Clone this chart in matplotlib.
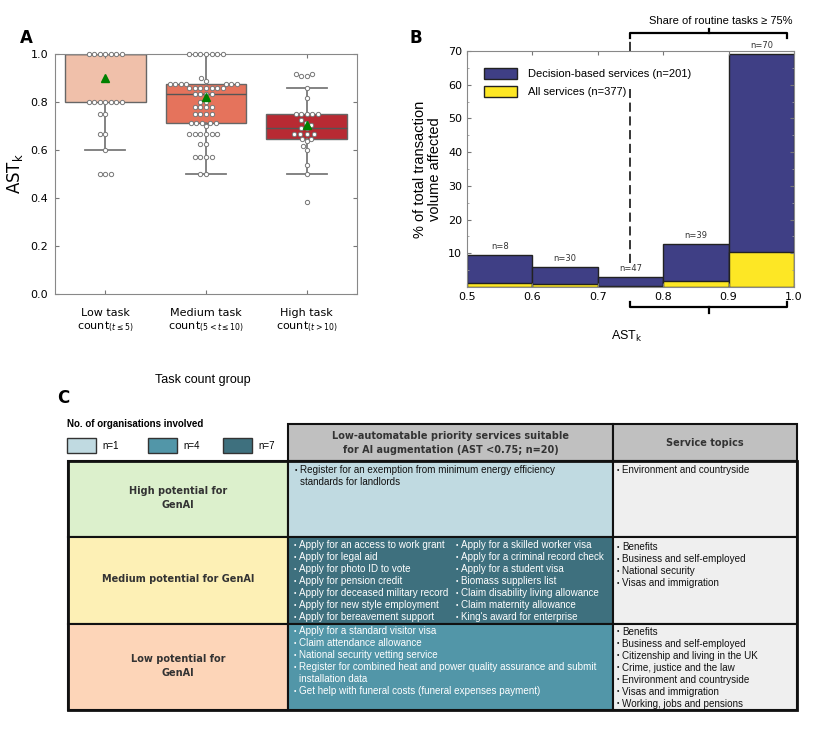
import matplotlib
matplotlib.use('Agg')
import matplotlib.pyplot as plt
import matplotlib.transforms as mtransforms
from matplotlib.patches import Rectangle, Patch
import seaborn as sns
import pandas as pd

# ---- Painel A: AST_k por grupo de contagem de tarefas
groups = ['Low', 'Medium', 'High']
group_labels = ['Low task\ncount$_{(t\\leq5)}$',
                'Medium task\ncount$_{(5<t\\leq10)}$',
                'High task\ncount$_{(t>10)}$']
low_vals = [1.0, 1.0, 1.0, 1.0, 1.0, 1.0, 1.0,
            0.8, 0.8, 0.8, 0.8, 0.8, 0.8, 0.8,
            0.75, 0.75, 0.667, 0.667, 0.6, 0.5, 0.5, 0.5]
medium_vals = [1.0, 1.0, 1.0, 1.0, 1.0, 1.0, 1.0,
               0.9, 0.889,
               0.875, 0.875, 0.875, 0.875, 0.875, 0.875, 0.875,
               0.857, 0.857, 0.857, 0.857, 0.857, 0.857, 0.857,
               0.833, 0.833, 0.833, 0.833, 0.8, 0.8,
               0.778, 0.778, 0.778, 0.778, 0.75, 0.75, 0.75, 0.75,
               0.714, 0.714, 0.714, 0.714, 0.714, 0.7,
               0.667, 0.667, 0.667, 0.667, 0.667, 0.667,
               0.625, 0.625, 0.571, 0.571, 0.571, 0.571, 0.5, 0.5]
high_vals = [0.917, 0.917, 0.909, 0.909, 0.857, 0.818,
             0.75, 0.75, 0.75, 0.75, 0.75, 0.727, 0.714, 0.706,
             0.692, 0.692, 0.667, 0.667, 0.667, 0.667, 0.647, 0.647,
             0.636, 0.615, 0.6, 0.538, 0.5, 0.385]
box_q1 = [0.8, 0.714, 0.647]
box_med = [1.0, 0.833, 0.692]
box_q3 = [1.0, 0.875, 0.75]
whisk_lo = [0.6, 0.5, 0.5]
whisk_hi = [1.0, 1.0, 0.857]
box_mean = [0.9, 0.82, 0.705]
box_fliers = [[], [], [0.385]]
box_colors = ['#f0c0aa', '#e5735c', '#b82a33']

# ---- Painel B: histograma de volume de transacoes
bin_left = [0.5, 0.6, 0.7, 0.8, 0.9]
decision_share = [9.6, 5.9, 2.9, 12.8, 69.2]
all_share = [1.3, 0.8, 0.3, 1.8, 10.3]
bin_n = [8, 30, 47, 39, 70]

# ---- Painel C: tabela de servicos
legend_n = ['n=1', 'n=4', 'n=7']
legend_colors = ['#c0dae1', '#5296a8', '#3e707e']
row_labels = ['High potential for\nGenAI', 'Medium potential for GenAI', 'Low potential for\nGenAI']
row_colors = ['#dcf0cc', '#fdf0b5', '#fdd5b8']
mid_colors = ['#c0dae1', '#3e707e', '#5296a8']
mid_text_colors = ['#111111', 'white', 'white']
header_mid = 'Low-automatable priority services suitable\nfor AI augmentation (AST <0.75; n=20)'
header_right = 'Service topics'
high_services = ['Register for an exemption from minimum energy efficiency\nstandards for landlords']
medium_services_a = ['Apply for an access to work grant', 'Apply for legal aid', 'Apply for photo ID to vote',
                     'Apply for pension credit', 'Apply for deceased military record',
                     'Apply for new style employment', 'Apply for bereavement support']
medium_services_b = ['Apply for a skilled worker visa', 'Apply for a criminal record check',
                     'Apply for a student visa', 'Biomass suppliers list', 'Claim disability living allowance',
                     'Claim maternity allowance', "King's award for enterprise"]
low_services = ['Apply for a standard visitor visa', 'Claim attendance allowance',
                'National security vetting service',
                'Register for combined heat and power quality assurance and submit\ninstallation data',
                'Get help with funeral costs (funeral expenses payment)']
high_topics = ['Environment and countryside']
medium_topics = ['Benefits', 'Business and self-employed', 'National security', 'Visas and immigration']
low_topics = ['Benefits', 'Business and self-employed', 'Citizenship and living in the UK',
              'Crime, justice and the law', 'Environment and countryside', 'Visas and immigration',
              'Working, jobs and pensions']

plt.rcParams['font.family'] = 'DejaVu Sans'
W, H = 829, 735
fig = plt.figure(figsize=(W / 100, H / 100), dpi=100)

# ================= A =================
axA = fig.add_axes([55 / W, 1 - 294 / H, 302 / W, 240 / H])
df = pd.DataFrame({'group': ['Low'] * len(low_vals) + ['Medium'] * len(medium_vals) + ['High'] * len(high_vals),
                   'ast': low_vals + medium_vals + high_vals})
sns.swarmplot(data=df, x='group', y='ast', order=groups, ax=axA, color='white',
              edgecolor='#777777', linewidth=0.7, size=3.1, zorder=3)
for coll in axA.collections:
    coll.set_clip_on(False)

stats = []
for i in range(3):
    stats.append(dict(q1=box_q1[i], med=box_med[i], q3=box_q3[i], whislo=whisk_lo[i],
                      whishi=whisk_hi[i], mean=box_mean[i], fliers=box_fliers[i]))
bp = axA.bxp(stats, positions=[0, 1, 2], widths=0.8, capwidths=0.4, patch_artist=True, showmeans=True,
             boxprops=dict(edgecolor='#666666', linewidth=1.0),
             whiskerprops=dict(color='#7a7a7a', linewidth=1.3),
             capprops=dict(color='#7a7a7a', linewidth=1.3),
             medianprops=dict(color='#555555', linewidth=1.0),
             meanprops=dict(marker='^', markerfacecolor='green', markeredgecolor='green', markersize=6),
             flierprops=dict(marker='o', markersize=2, markerfacecolor='#333333', markeredgecolor='#333333'))
for patch, c in zip(bp['boxes'], box_colors):
    patch.set_facecolor(c)
    patch.set_zorder(1)
for ln in bp['means']:
    ln.set_zorder(5)

axA.set_xlim(-0.5, 2.5)
axA.set_ylim(0, 1.0)
axA.set_xticks([0, 1, 2])
axA.set_xticklabels(group_labels, fontsize=8)
axA.set_yticks([0, 0.2, 0.4, 0.6, 0.8, 1.0])
axA.set_yticklabels(['0.0', '0.2', '0.4', '0.6', '0.8', '1.0'], fontsize=8)
axA.tick_params(direction='in', top=True, right=True, length=3, color='#777777', pad=5)
axA.tick_params(axis='x', pad=10)
for s in axA.spines.values():
    s.set_color('#888888')
axA.set_xlabel('')
axA.set_ylabel('AST$_\\mathrm{k}$', fontsize=12, labelpad=4)

# ================= B =================
axB = fig.add_axes([467 / W, 1 - 287 / H, 327 / W, 236 / H])
axB.bar(bin_left, decision_share, width=0.1, align='edge', color='#3f3f85', edgecolor='#222222', linewidth=1)
axB.bar(bin_left, all_share, width=0.1, align='edge', color='#fde725', edgecolor='#222222', linewidth=1)
for x, h, n in zip(bin_left, decision_share, bin_n):
    axB.text(x + 0.05, h + 1.2, f'n={n}', ha='center', va='bottom', fontsize=6, color='#333333')
axB.set_xlim(0.5, 1.0)
axB.set_ylim(0, 70)
axB.set_yticks([10, 20, 30, 40, 50, 60, 70])
axB.set_yticks([5, 15, 25, 35, 45, 55, 65], minor=True)
axB.set_xticks([0.5, 0.6, 0.7, 0.8, 0.9, 1.0])
axB.set_xticklabels(['0.5', '0.6', '0.7', '0.8', '0.9', '1.0'])
axB.tick_params(direction='in', top=True, right=True, length=3, color='#777777', labelsize=8)
axB.tick_params(which='minor', direction='in', left=True, right=True, length=1.5, color='#999999')
for s in axB.spines.values():
    s.set_color('#888888')
axB.set_ylabel('% of total transaction\nvolume affected', fontsize=10.5, family='Liberation Sans',
               labelpad=4, linespacing=1.1)

handles = [Patch(facecolor='#3f3f85', edgecolor='#222222'), Patch(facecolor='#fde725', edgecolor='#222222')]
axB.legend(handles, ['Decision-based services (n=201)', 'All services (n=377)'], loc='upper left',
           bbox_to_anchor=(0.02, 0.97), frameon=False, handlelength=3.0, handleheight=1.1,
           handletextpad=1.0, labelspacing=0.6, prop={'family': 'Liberation Sans', 'size': 8})

trB = mtransforms.blended_transform_factory(axB.transData, axB.transAxes)
dash = (0, (6, 3))
axB.plot([0.75, 0.75], [0.1, 0.84], transform=trB, color='black', lw=1.1, ls=dash)
axB.plot([0.75, 0.75], [1.0, 1.076], transform=trB, color='black', lw=1.1, ls=dash, clip_on=False)
# soportes (brackets)
axB.plot([0.75, 0.75, 0.99, 0.99], [1.055, 1.076, 1.076, 1.055], transform=trB, color='black', lw=1.6,
         clip_on=False)
axB.plot([0.87, 0.87], [1.076, 1.093], transform=trB, color='black', lw=1.6, clip_on=False)
axB.plot([0.75, 0.75, 0.99, 0.99], [-0.064, -0.085, -0.085, -0.064], transform=trB, color='black', lw=1.6,
         clip_on=False)
axB.plot([0.87, 0.87], [-0.085, -0.11], transform=trB, color='black', lw=1.6, clip_on=False)

# ================= overlay (textos e painel C) =================
axC = fig.add_axes([0, 0, 1, 1], zorder=-1)
axC.set_xlim(0, W)
axC.set_ylim(H, 0)
axC.axis('off')

axC.text(20, 38, 'A', fontsize=12, fontweight='bold', va='center')
axC.text(410, 38, 'B', fontsize=12, fontweight='bold', va='center')
axC.text(57, 398, 'C', fontsize=12, fontweight='bold', va='center')
axC.text(203, 380, 'Task count group', fontsize=9, family='Liberation Sans', ha='center', va='center')
axC.text(627, 336, 'AST$_\\mathrm{k}$', fontsize=9, family='Liberation Sans', ha='center', va='center')
axC.text(721, 21, 'Share of routine tasks \u2265 75%', fontsize=8, family='Liberation Sans',
         ha='center', va='center')

# legenda do painel C
axC.text(67, 424, 'No. of organisations involved', fontsize=7, fontweight='bold', va='center',
         family='Liberation Sans')
for x0, lab, c in zip([67, 148, 223], legend_n, legend_colors):
    axC.add_patch(Rectangle((x0, 438), 29, 15, facecolor=c, edgecolor='#333333', lw=1))
    axC.text(x0 + 35, 445.5, lab, fontsize=7, family='Liberation Sans', va='center')

col_x = [68, 288, 613, 797]
row_y = [424, 461, 537, 624, 710]


def cell(x0, y0, x1, y1, fc, lw=1.5):
    axC.add_patch(Rectangle((x0, y0), x1 - x0, y1 - y0, facecolor=fc, edgecolor='#111111', lw=lw))


cell(col_x[1], row_y[0], col_x[2], row_y[1], '#c0c0c0')
cell(col_x[2], row_y[0], col_x[3], row_y[1], '#c0c0c0')
axC.text((col_x[1] + col_x[2]) / 2, 443, header_mid, fontsize=7, fontweight='bold', color='#333333',
         ha='center', va='center', linespacing=1.5)
axC.text((col_x[2] + col_x[3]) / 2, 443, header_right, fontsize=7, fontweight='bold', color='#333333',
         ha='center', va='center')

for i in range(3):
    y0, y1 = row_y[i + 1], row_y[i + 2]
    cell(col_x[0], y0, col_x[1], y1, row_colors[i])
    cell(col_x[1], y0, col_x[2], y1, mid_colors[i])
    cell(col_x[2], y0, col_x[3], y1, '#efefef')
    axC.text((col_x[0] + col_x[1]) / 2, (y0 + y1) / 2 - 1, row_labels[i], fontsize=7, fontweight='bold',
             color='#333333', ha='center', va='center', linespacing=1.6)
axC.add_patch(Rectangle((col_x[0], row_y[1]), col_x[3] - col_x[0], row_y[4] - row_y[1], fill=False,
                        edgecolor='#111111', lw=2))


def bullets(items, x, y, color, step=12):
    for item in items:
        parts = item.split('\n')
        axC.text(x, y, '\u2022', fontsize=5, color=color, va='center', family='Liberation Sans')
        for p in parts:
            axC.text(x + 5, y, p, fontsize=7.1, color=color, va='center', family='Liberation Sans')
            y += step


bullets(high_services, 295, 470, mid_text_colors[0])
bullets(medium_services_a, 294, 545, mid_text_colors[1])
bullets(medium_services_b, 456, 545, mid_text_colors[1])
bullets(low_services, 294, 631, mid_text_colors[2])
bullets(high_topics, 617, 470, '#111111')
bullets(medium_topics, 617, 547, '#111111')
bullets(low_topics, 617, 632, '#111111')

fig.savefig('out.png', dpi=100)
